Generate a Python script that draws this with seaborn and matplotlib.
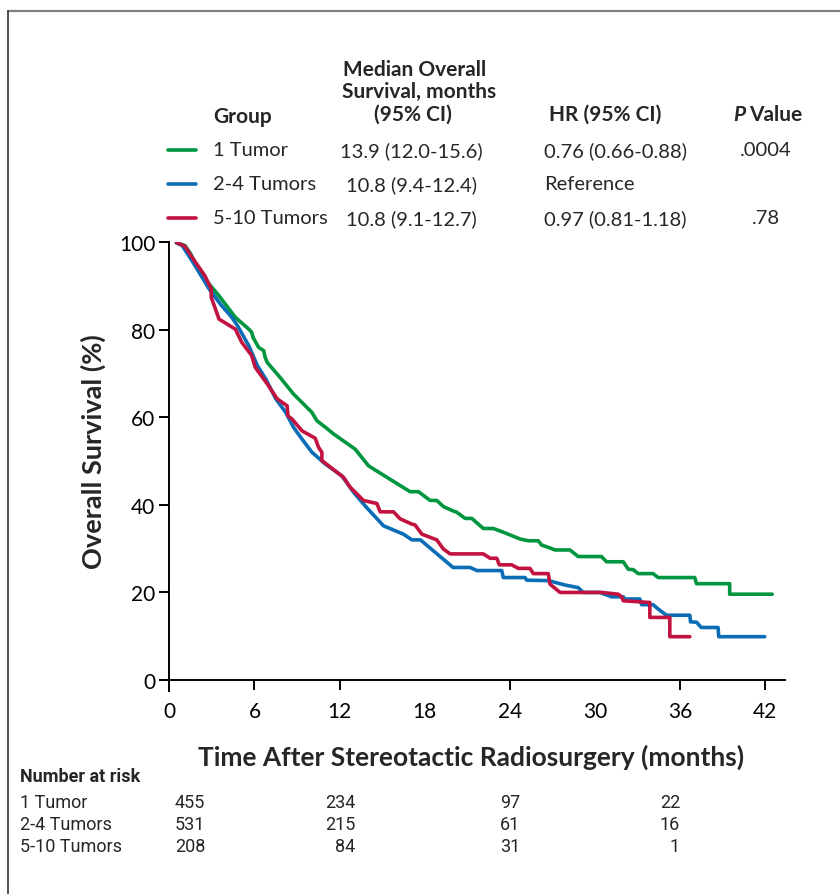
import matplotlib
matplotlib.use("Agg")
import matplotlib.pyplot as plt
import numpy as np
import pandas as pd
import seaborn as sns
from matplotlib.lines import Line2D

# Courbes de survie
time_1 = [0.5, 1.1, 1.5, 2.1, 2.5, 3.5, 4.3, 4.65, 5.6, 5.8, 5.9, 6.3, 6.65, 6.75, 6.9,
          7.8, 8.75, 9.8, 10.05, 10.4, 11.0, 11.57, 13.1, 14.04, 14.98, 16.27, 16.97,
          17.56, 18.38, 18.85, 19.32, 20.0, 20.26, 20.85, 21.32, 22.13, 22.84, 23.66,
          24.72, 25.3, 26.0, 26.25, 26.71, 27.18, 28.24, 28.82, 30.46, 30.82, 32.0,
          32.35, 32.7, 33.05, 34.1, 34.46, 37.04, 37.16, 39.5, 39.5, 42.5]
surv_1 = [99.8, 99.2, 97.3, 93.4, 91.6, 87.7, 84.3, 82.8, 80.1, 79.4, 78.2, 75.9, 75.2, 73.7,
          72.5, 69.1, 65.3, 61.9, 61.1, 59.2, 57.7, 56.2, 52.7, 48.9, 47.0, 44.4, 43.0,
          43.0, 41.0, 41.0, 39.6, 38.6, 38.3, 36.9, 36.9, 34.6, 34.6, 33.6, 32.2, 31.8,
          31.8, 30.8, 30.3, 29.7, 29.7, 28.2, 28.2, 27.0, 27.0, 25.3, 25.2, 24.3, 24.3,
          23.4, 23.4, 22.0, 22.0, 19.6, 19.6]

time_24 = [0.5, 0.9, 1.6, 2.8, 3.6, 4.4, 4.8, 5.6, 6.2, 6.8, 7.5, 8.2, 8.75, 9.35, 10.05,
           11.0, 12.16, 13.0, 13.9, 15.1, 16.5, 17.1, 17.7, 20.0, 21.2, 21.67, 23.43,
           23.54, 25.07, 25.19, 26.71, 27.89, 28.82, 29.17, 30.35, 31.18, 32.0, 32.1,
           33.17, 33.29, 34.1, 34.46, 35.05, 36.69, 36.74, 37.16, 37.5, 38.68, 38.73, 41.97]
surv_24 = [99.8, 99.2, 95.7, 89.3, 85.8, 82.8, 80.9, 76.3, 71.8, 68.7, 64.2, 61.1, 57.7,
           55.0, 52.0, 49.3, 46.6, 42.8, 39.4, 35.2, 33.3, 32.0, 32.0, 25.7, 25.7, 25.0,
           25.0, 23.4, 23.4, 22.8, 22.7, 21.7, 21.1, 20.0, 20.0, 19.0, 19.0, 18.5, 18.5,
           17.2, 17.2, 16.2, 14.8, 14.8, 13.3, 13.2, 12.0, 12.0, 9.9, 9.9]

time_510 = [0.5, 1.1, 1.6, 2.5, 2.95, 2.95, 3.5, 4.65, 5.1, 5.8, 6.05, 6.9, 7.6, 8.3, 8.36,
            8.64, 9.35, 10.28, 10.52, 10.75, 10.75, 12.27, 12.75, 13.68, 14.63, 14.86,
            15.8, 16.27, 17.09, 17.32, 17.8, 18.85, 19.32, 19.79, 22.13, 22.61, 23.08,
            23.26, 24.13, 24.6, 25.42, 25.66, 26.71, 26.83, 27.54, 30.46, 31.64, 31.88,
            32.0, 33.87, 33.87, 35.28, 35.28, 36.69]
surv_510 = [99.9, 99.0, 96.5, 92.3, 89.3, 87.4, 82.4, 80.1, 77.1, 74.1, 71.4, 67.6, 64.2,
            62.6, 60.3, 59.6, 56.9, 55.2, 53.1, 52.0, 50.1, 46.3, 44.0, 41.0, 40.3, 38.4,
            38.4, 36.8, 35.6, 35.4, 33.3, 32.0, 29.9, 28.8, 28.8, 27.8, 27.8, 26.3, 26.3,
            25.5, 25.5, 24.3, 24.3, 21.9, 20.0, 20.0, 19.6, 19.0, 18.1, 17.7, 14.3, 14.3,
            9.9, 9.9]

groups = ["1 Tumor", "2-4 Tumors", "5-10 Tumors"]
colors = ["#00963f", "#0a6db5", "#c2123f"]
medians = ["13.9 (12.0-15.6)", "10.8 (9.4-12.4)", "10.8 (9.1-12.7)"]
hrs = ["0.76 (0.66-0.88)", "Reference", "0.97 (0.81-1.18)"]
pvals = [".0004", "", ".78"]

risk_label = ["1 Tumor", "2-4 Tumors", "5-10 Tumors"]
risk_counts = [[455, 234, 97, 22], [531, 215, 61, 16], [208, 84, 31, 1]]

xticks = [0, 6, 12, 18, 24, 30, 36, 42]
yticks = [0, 20, 40, 60, 80, 100]

df = pd.concat([
    pd.DataFrame({"time": time_1, "surv": surv_1, "group": groups[0]}),
    pd.DataFrame({"time": time_24, "surv": surv_24, "group": groups[1]}),
    pd.DataFrame({"time": time_510, "surv": surv_510, "group": groups[2]}),
], ignore_index=True)

sns.set_theme(style="ticks")
plt.rcParams["font.family"] = ["Lato", "DejaVu Sans"]
NARROW = ["Roboto", "DejaVu Sans"]

W, H = 840, 895
fig = plt.figure(figsize=(W / 100, H / 100), dpi=100)
ax = fig.add_axes([163 / W, 1 - 692 / H, (785 - 163) / W, (692 - 243) / H])


def px(x, y):
    return x / W, 1 - y / H


sns.lineplot(data=df, x="time", y="surv", hue="group", palette=colors, sort=False,
             estimator=None, linewidth=2.6, legend=False, ax=ax)

ax.set_xlim(-0.45, 43.4)
ax.set_ylim(-2.5, 100)
ax.spines["left"].set_position(("data", 0))
ax.spines["bottom"].set_position(("data", 0))
ax.spines["top"].set_visible(False)
ax.spines["right"].set_visible(False)
for s in ("left", "bottom"):
    ax.spines[s].set_linewidth(1.4)
    ax.spines[s].set_color("black")
ax.set_xticks(xticks)
ax.set_yticks(yticks)
ax.tick_params(axis="both", length=7, width=1.4, color="black", labelsize=15,
               labelcolor="black")
ax.tick_params(axis="x", pad=8)
ax.tick_params(axis="y", pad=3)
for i, t in enumerate(ax.xaxis.get_major_ticks()):
    if xticks[i] in (18, 30):
        t.tick1line.set_visible(False)
ax.set_xlabel("")
ax.set_ylabel("")
ax.grid(False)

fig.text(*px(93, 452), "Overall Survival (%)", fontsize=19.5, fontweight="bold",
         rotation=90, ha="center", va="center")
fig.text(*px(471, 757), "Time After Stereotactic Radiosurgery (months)", fontsize=19,
         fontweight="bold", ha="center", va="center")

# En-tête du tableau
hdr = dict(fontsize=15, fontweight="bold", va="center")
fig.text(*px(415, 70), "Median Overall", ha="center", **hdr)
fig.text(*px(419, 92), "Survival, months", ha="center", **hdr)
fig.text(*px(413, 115), "(95% CI)", ha="center", **hdr)
fig.text(*px(213, 117), "Group", ha="left", **hdr)
fig.text(*px(605, 115), "HR (95% CI)", ha="center", **hdr)
fig.text(*px(745, 115), "P", ha="right", style="italic", **hdr)
fig.text(*px(749, 115), "Value", ha="left", **hdr)

row_y = [151, 185, 219]
for i, g in enumerate(groups):
    y = row_y[i]
    fig.add_artist(Line2D([168 / W, 196 / W], [1 - y / H, 1 - y / H], color=colors[i],
                          linewidth=2.6, transform=fig.transFigure))
    fig.text(*px(213, y), g, fontsize=14.5, ha="left", va="center")
    fig.text(*px(411, y), medians[i], fontsize=14.5, ha="center", va="center")
    fig.text(*px(544, y), hrs[i], fontsize=14.5, ha="left", va="center")
    fig.text(*px(766, y), pvals[i], fontsize=14.5, ha="center", va="center")

# Nombre de patients à risque
fig.text(*px(20, 777), "Number at risk", fontsize=13, fontweight="bold", family=NARROW,
         stretch="condensed", ha="left", va="center")
col_x = [205, 355, 520, 680]
risk_y = [803, 825, 847]
for i, lab in enumerate(risk_label):
    fig.text(*px(20, risk_y[i]), lab, fontsize=13, family=NARROW, stretch="condensed",
             ha="left", va="center")
    for j, n in enumerate(risk_counts[i]):
        fig.text(*px(col_x[j], risk_y[i]), str(n), fontsize=13, family=NARROW,
                 stretch="condensed", ha="right", va="center")

# Cadre du panneau
fig.add_artist(Line2D([8 / W, 1], [1 - 12 / H, 1 - 12 / H], color="#808080", linewidth=1.6,
                      transform=fig.transFigure))
fig.add_artist(Line2D([8 / W, 8 / W], [0, 1 - 12 / H], color="#222222", linewidth=1.1,
                      transform=fig.transFigure))

fig.savefig("out.png", dpi=100)
